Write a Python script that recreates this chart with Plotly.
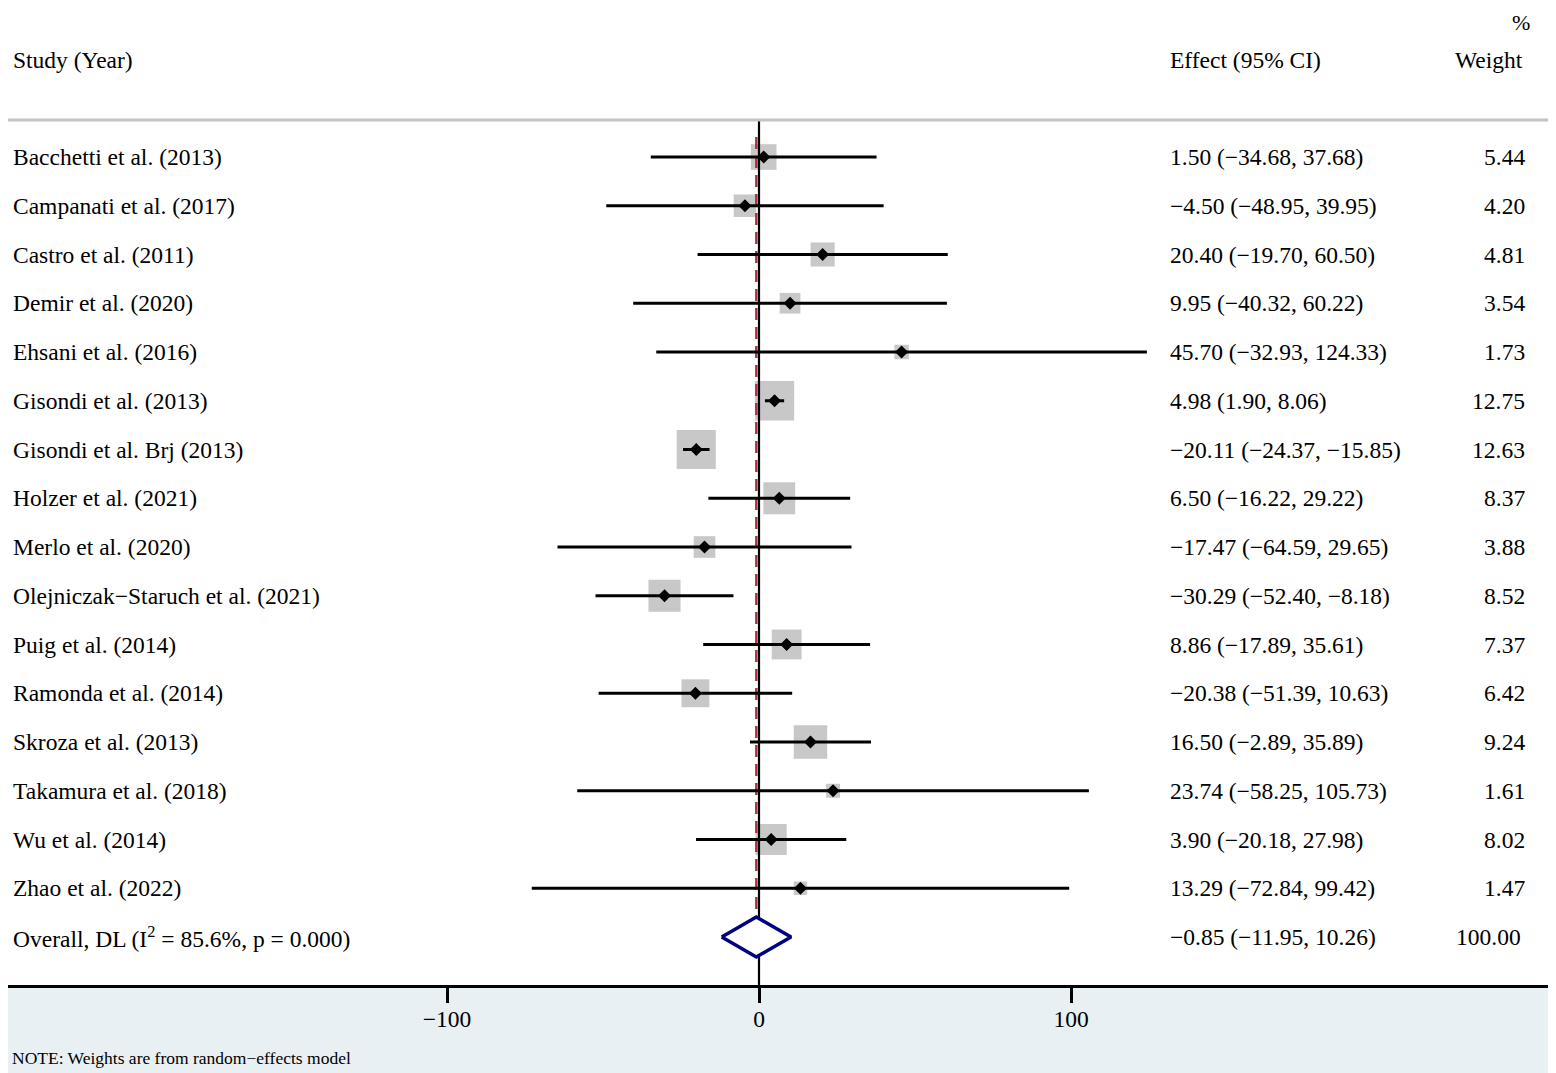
import plotly.graph_objects as go

# ---- data ----
studies = [
    "Bacchetti et al. (2013)", "Campanati et al. (2017)", "Castro et al. (2011)",
    "Demir et al. (2020)", "Ehsani et al. (2016)", "Gisondi et al. (2013)",
    "Gisondi et al. Brj (2013)", "Holzer et al. (2021)", "Merlo et al. (2020)",
    "Olejniczak\u2212Staruch et al. (2021)", "Puig et al. (2014)", "Ramonda et al. (2014)",
    "Skroza et al. (2013)", "Takamura et al. (2018)", "Wu et al. (2014)",
    "Zhao et al. (2022)",
]
effect = [1.50, -4.50, 20.40, 9.95, 45.70, 4.98, -20.11, 6.50, -17.47, -30.29,
          8.86, -20.38, 16.50, 23.74, 3.90, 13.29]
lower = [-34.68, -48.95, -19.70, -40.32, -32.93, 1.90, -24.37, -16.22, -64.59,
         -52.40, -17.89, -51.39, -2.89, -58.25, -20.18, -72.84]
upper = [37.68, 39.95, 60.50, 60.22, 124.33, 8.06, -15.85, 29.22, 29.65, -8.18,
         35.61, 10.63, 35.89, 105.73, 27.98, 99.42]
weight = [5.44, 4.20, 4.81, 3.54, 1.73, 12.75, 12.63, 8.37, 3.88, 8.52, 7.37,
          6.42, 9.24, 1.61, 8.02, 1.47]

overall_label = "Overall, DL (I<sup>2</sup> = 85.6%, p = 0.000)"
overall_eff, overall_lo, overall_hi = -0.85, -11.95, 10.26
overall_weight = 100.00

tick_vals = [-100, 0, 100]
tick_text = ["\u2212100", "0", "100"]

# ---- layout constants ----
# the page puts the figure 8px in from the top-left corner, so the figure
# is 8px smaller and every target pixel position is shifted by OFF
OFF = 8
W, H = 1556 - OFF, 1073 - OFF
AXIS_Y = 985           # target pixel row of the x axis line
FONT = "Liberation Serif, Times New Roman, serif"
FS = 23.5
n = len(studies)
rows = list(range(n))
overall_row = n

X0_PX, X_SCALE = 759, 3.12      # pixel of x=0, pixels per unit
R0_PX, R_STEP = 157, 48.75      # pixel of first row, pixels per row


def fmt(v):
    return f"{v:.2f}".replace("-", "\u2212")


def px(p):
    return (p - OFF) / W


def py(p):
    return (AXIS_Y - p) / (AXIS_Y - OFF)


def row_of(p):
    return (p - R0_PX) / R_STEP


fig = go.Figure()

# weight boxes (side ~ sqrt(weight))
fig.add_trace(go.Scatter(
    x=effect, y=rows, mode="markers", hoverinfo="skip",
    marker=dict(symbol="square", color="#b0b0b0",
                size=[11 * w ** 0.5 for w in weight], line=dict(width=0)),
))

# null line
fig.add_trace(go.Scatter(
    x=[0, 0], y=[row_of(120), row_of(AXIS_Y)], mode="lines", hoverinfo="skip",
    line=dict(color="black", width=2.2),
))
# overall effect line
fig.add_trace(go.Scatter(
    x=[overall_eff, overall_eff], y=[row_of(137), overall_row + 0.41], mode="lines",
    hoverinfo="skip", line=dict(color="#a8323f", width=2.5, dash="12px,7px"),
))

# CI lines
cx, cy = [], []
for r, lo, hi in zip(rows, lower, upper):
    cx += [lo, hi, None]
    cy += [r, r, None]
fig.add_trace(go.Scatter(
    x=cx, y=cy, mode="lines", hoverinfo="skip",
    line=dict(color="black", width=3),
))

# point estimates
fig.add_trace(go.Scatter(
    x=effect, y=rows, mode="markers", hoverinfo="skip",
    marker=dict(symbol="diamond", color="black", size=10, line=dict(width=0)),
))

# overall diamond
h = 0.41
fig.add_trace(go.Scatter(
    x=[overall_lo, overall_eff, overall_hi, overall_eff, overall_lo],
    y=[overall_row, overall_row - h, overall_row, overall_row + h, overall_row],
    mode="lines", fill="toself", fillcolor="white", hoverinfo="skip",
    line=dict(color="#000080", width=3.5),
))

# ---- text columns ----
ann = []


def text(x, y, s, anchor="left", size=FS, yref="y", yanchor="middle"):
    ann.append(dict(x=x, y=y, xref="paper", yref=yref, text=s, showarrow=False,
                    xanchor=anchor, yanchor=yanchor,
                    font=dict(family=FONT, size=size, color="black")))


LEFT, EFF, WGT = px(11), px(1168), px(1527)
text(LEFT, row_of(60), "Study (Year)")
text(EFF, row_of(60), "Effect (95% CI)")
text(px(1525), row_of(60), "Weight", "right")
text(px(1532), 1, "%", "right", size=22, yref="paper", yanchor="top")

for r, s, e, lo, hi, w in zip(rows, studies, effect, lower, upper, weight):
    text(LEFT, r, s)
    text(EFF, r, f"{fmt(e)} ({fmt(lo)}, {fmt(hi)})")
    text(WGT, r, f"{w:.2f}", "right")

text(LEFT, overall_row, overall_label)
text(EFF, overall_row,
     f"{fmt(overall_eff)} ({fmt(overall_lo)}, {fmt(overall_hi)})")
text(px(1523), overall_row, f"{overall_weight:.2f}", "right")

text(px(10), py(1058), "NOTE: Weights are from random\u2212effects model",
     size=17.5, yref="paper")

x_lo = (OFF - X0_PX) / X_SCALE
x_hi = (1556 - X0_PX) / X_SCALE

fig.update_layout(
    width=W, height=H,
    margin=dict(l=0, r=0, t=0, b=1073 - AXIS_Y),
    paper_bgcolor="#e8f0f3",
    plot_bgcolor="white",
    showlegend=False,
    annotations=ann,
    shapes=[dict(type="line", xref="paper", yref="y", x0=px(5), x1=px(1552),
                 y0=row_of(120), y1=row_of(120),
                 line=dict(color="#c4c4c4", width=3))],
    xaxis=dict(range=[x_lo, x_hi], showgrid=False, zeroline=False,
               showline=True, linecolor="black", linewidth=3,
               ticks="outside", ticklen=15, tickwidth=3, tickcolor="black",
               tickvals=tick_vals, ticktext=tick_text, ticklabelstandoff=-4,
               tickfont=dict(family=FONT, size=FS, color="black"),
               fixedrange=True),
    yaxis=dict(range=[row_of(AXIS_Y), row_of(OFF)], showgrid=False, zeroline=False,
               showticklabels=False, showline=False, fixedrange=True),
)

fig.write_html("out.html")
